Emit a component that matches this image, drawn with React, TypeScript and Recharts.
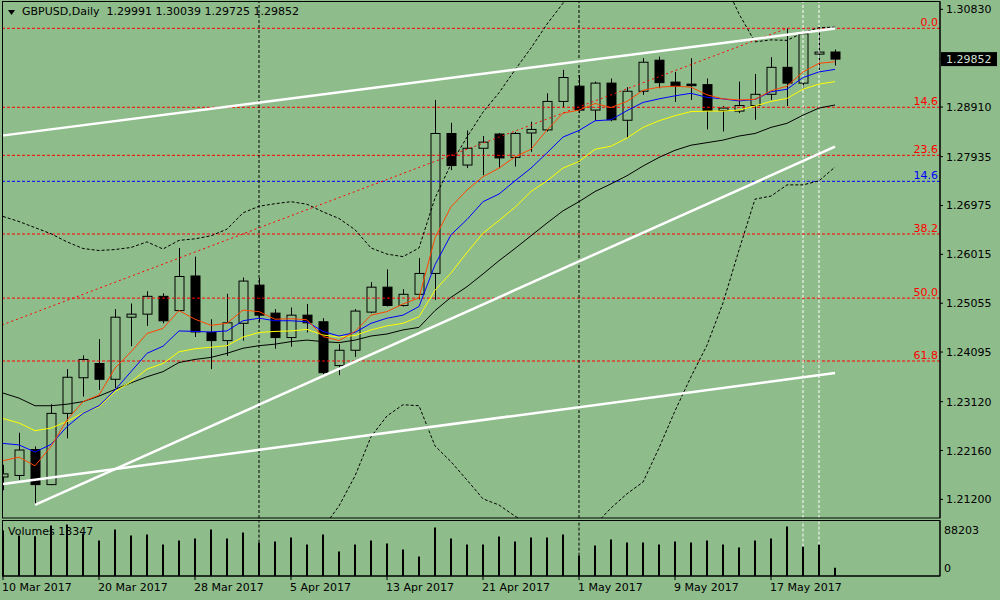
import { ComposedChart, Bar, Line, XAxis, YAxis, ReferenceLine } from "recharts";

const BG = "#8fbc8b";
const FONT = "DejaVu Sans, Tahoma, sans-serif";

// bar 0 = 10 Mar 2017 ... bar 52 = 23 May 2017 (daily bars, weekends skipped)
const tickBars = [0, 6, 12, 18, 24, 30, 36, 42, 48];
const tickDates = [
  "10 Mar 2017", "20 Mar 2017", "28 Mar 2017", "5 Apr 2017", "13 Apr 2017",
  "21 Apr 2017", "1 May 2017", "9 May 2017", "17 May 2017",
];

const opens = [
  1.2164, 1.2167, 1.2218, 1.2149, 1.2289, 1.2359, 1.2387, 1.2356, 1.2478, 1.2484,
  1.2519, 1.2491, 1.2559, 1.2448, 1.2432, 1.2466, 1.2541, 1.2486, 1.2438, 1.2482,
  1.2469, 1.2383, 1.2413, 1.2488, 1.2537, 1.2501, 1.2523, 1.2564, 1.2839, 1.2777,
  1.281, 1.2838, 1.2792, 1.284, 1.2846, 1.2902, 1.2932, 1.2885, 1.2938, 1.2865,
  1.2922, 1.2983, 1.294, 1.2936, 1.2935, 1.2884, 1.2883, 1.2894, 1.2916, 1.2969,
  1.2938, 1.2995, 1.29991,
];
const highs = [
  1.2188, 1.2251, 1.2224, 1.2307, 1.2376, 1.2403, 1.2435, 1.2494, 1.2505, 1.2529,
  1.2525, 1.2614, 1.2597, 1.2474, 1.2524, 1.2556, 1.2555, 1.2494, 1.2497, 1.2504,
  1.2476, 1.2425, 1.2494, 1.2547, 1.2572, 1.2533, 1.2594, 1.2905, 1.286, 1.2845,
  1.2834, 1.284, 1.2842, 1.2862, 1.2918, 1.2964, 1.2954, 1.2941, 1.2947, 1.293,
  1.2987, 1.299, 1.296, 1.2987, 1.2947, 1.2893, 1.2941, 1.2956, 1.2989, 1.3046,
  1.3037, 1.3046, 1.30039,
];
const lows = [
  1.2138, 1.2158, 1.2109, 1.2148, 1.224, 1.2322, 1.2335, 1.2339, 1.2421, 1.2461,
  1.2466, 1.249, 1.2439, 1.2376, 1.2402, 1.2432, 1.2469, 1.2416, 1.242, 1.2448,
  1.2366, 1.2364, 1.24, 1.2486, 1.2499, 1.2499, 1.2513, 1.2512, 1.2767, 1.2771,
  1.2757, 1.2771, 1.2774, 1.2803, 1.2843, 1.2889, 1.2879, 1.2864, 1.2863, 1.283,
  1.2915, 1.2928, 1.2901, 1.2905, 1.2847, 1.2843, 1.2879, 1.2866, 1.2905, 1.2893,
  1.2928, 1.2964, 1.29725,
];
const closes = [
  1.217, 1.2217, 1.2149, 1.2289, 1.236, 1.2395, 1.2356, 1.2478, 1.2484, 1.2519,
  1.2471, 1.2558, 1.2449, 1.2432, 1.2467, 1.2549, 1.2482, 1.2438, 1.2482, 1.2467,
  1.2369, 1.2413, 1.249, 1.2537, 1.2501, 1.2523, 1.2564, 1.2839, 1.2776, 1.281,
  1.2822, 1.2791, 1.2839, 1.2847, 1.2902, 1.2949, 1.2885, 1.2938, 1.2866, 1.2922,
  1.2979, 1.2939, 1.2932, 1.2933, 1.2884, 1.2889, 1.2894, 1.2916, 1.2969, 1.2938,
  1.3035, 1.2999, 1.29852,
];
const volumes = [
  72900, 64900, 63800, 81000, 82600, 68100, 56800, 74500, 64900, 66500,
  50400, 56800, 60100, 74500, 60100, 69700, 53600, 55200, 61700, 50400,
  66500, 39100, 50400, 56800, 52000, 42300, 31100, 77800, 60100, 50400,
  50400, 63300, 55200, 61700, 61700, 66500, 32700, 48800, 58400, 53600,
  53600, 50400, 55200, 53600, 56800, 50400, 45600, 56800, 60100, 79400,
  47200, 50400, 13347,
];

// moving averages and bands, read bar by bar
const maRed = [
  1.2196, 1.2203, 1.2186, 1.2224, 1.2276, 1.2312, 1.2325, 1.2378, 1.241, 1.2446,
  1.2456, 1.2491, 1.2474, 1.2462, 1.2466, 1.2492, 1.2489, 1.2474, 1.2475, 1.2473,
  1.244, 1.2432, 1.245, 1.2482, 1.2489, 1.2504, 1.2516, 1.2634, 1.2695, 1.2728,
  1.2754, 1.2771, 1.2793, 1.2808, 1.2846, 1.2879, 1.2885, 1.2898, 1.289, 1.2902,
  1.2924, 1.293, 1.2932, 1.293, 1.2915, 1.2907, 1.2905, 1.2906, 1.2923, 1.2932,
  1.296, 1.2977, 1.298,
];
const maBlue = [
  1.223, 1.2227, 1.2213, 1.2228, 1.2263, 1.2289, 1.2304, 1.2335, 1.2371, 1.2407,
  1.2421, 1.2451, 1.245, 1.2449, 1.2451, 1.2471, 1.2476, 1.2471, 1.2471, 1.2469,
  1.245, 1.2441, 1.2448, 1.2466, 1.2476, 1.2482, 1.2499, 1.2581, 1.264, 1.267,
  1.2705, 1.272, 1.2746, 1.2771, 1.2801, 1.2832, 1.2845, 1.2864, 1.2866, 1.2884,
  1.29, 1.2907, 1.2913, 1.2918, 1.291, 1.2907, 1.2903, 1.2906, 1.2921, 1.2926,
  1.2949, 1.296, 1.2965,
];
const maYellow = [
  1.2279, 1.227, 1.2255, 1.226, 1.2273, 1.229, 1.2302, 1.2332, 1.2351, 1.2376,
  1.2387, 1.241, 1.2416, 1.2419, 1.2422, 1.2439, 1.2448, 1.245, 1.2451, 1.2454,
  1.2443, 1.2439, 1.2442, 1.2453, 1.2461, 1.2466, 1.2479, 1.2531, 1.2565, 1.2605,
  1.2643, 1.2668, 1.2694, 1.2725, 1.2746, 1.2771, 1.2784, 1.2808, 1.2814, 1.283,
  1.2851, 1.2864, 1.2874, 1.2882, 1.2883, 1.2883, 1.2885, 1.2893, 1.2902, 1.2908,
  1.2926, 1.2936, 1.2941,
];
const maBlack = [
  1.2329, 1.2319, 1.2304, 1.2304, 1.2307, 1.2312, 1.2323, 1.2336, 1.2349, 1.2361,
  1.2371, 1.2389, 1.2395, 1.2399, 1.2407, 1.2417, 1.2422, 1.2425, 1.243, 1.2433,
  1.243, 1.2428, 1.2433, 1.2441, 1.2445, 1.2453, 1.2458, 1.2491, 1.2517, 1.2538,
  1.2563, 1.2589, 1.2613, 1.2638, 1.2663, 1.2687, 1.2705, 1.2725, 1.274, 1.2756,
  1.2775, 1.2792, 1.2806, 1.2816, 1.2821, 1.2826, 1.2834, 1.2839, 1.2851, 1.2859,
  1.2875, 1.2889, 1.2895,
];
const bandUpper = [
  1.2676, 1.2666, 1.2654, 1.2642, 1.2626, 1.2613, 1.2609, 1.2611, 1.2615, 1.2626,
  1.2612, 1.2629, 1.2632, 1.2638, 1.2651, 1.2683, 1.2696, 1.2701, 1.2705, 1.27,
  1.2685, 1.2672, 1.265, 1.2614, 1.2602, 1.2597, 1.2614, 1.2712, 1.2779, 1.2832,
  1.2881, 1.2919, 1.2964, 1.3007, 1.3054, 1.3095, 1.3361, 1.338, 1.338, 1.3382,
  1.3396, 1.3363, 1.3298, 1.3255, 1.3209, 1.3141, 1.3074, 1.3019, 1.3023, 1.3022,
  1.3037, 1.3047, 1.3048,
];
const bandLower = [
  1.1981, 1.1971, 1.1952, 1.1968, 1.1989, 1.2011, 1.203, 1.205, 1.206, 1.206,
  1.205, 1.206, 1.206, 1.204, 1.203, 1.2021, 1.2011, 1.2011, 1.2021, 1.204,
  1.2064, 1.2107, 1.2166, 1.2243, 1.2284, 1.2306, 1.2304, 1.2225, 1.2194, 1.2158,
  1.2121, 1.2109, 1.2087, 1.207, 1.206, 1.205, 1.205, 1.207, 1.2103, 1.2131,
  1.2154, 1.2221, 1.2294, 1.2361, 1.2423, 1.2506, 1.261, 1.271, 1.2716, 1.2738,
  1.2738, 1.2746, 1.2773,
];

const currentPrice = 1.29852;
const priceTicks = [
  1.3083, 1.29852, 1.2891, 1.27935, 1.26975, 1.26015, 1.25055, 1.24095, 1.2312, 1.2216, 1.212,
];
const fiboLevels = [1.30457, 1.28905, 1.27961, 1.26415, 1.25155, 1.23919];
const fiboLabels = ["0.0", "14.6", "23.6", "38.2", "50.0", "61.8"];
const fiboBlueLevel = 1.2745;
const fiboBlueLabel = "14.6";

// trendlines: [bar, price] anchors
const channelLines = [
  [[-0.0625, 1.28348], [52, 1.30453]],
  [[2, 1.2109], [52, 1.2813]],
  [[0, 1.21502], [52, 1.23683]],
];
const fiboTrend = [[-0.0625, 1.24627], [49, 1.30457]];
const monthSeparators = [16, 36];
const markedBars = [50, 51];

const X_DOMAIN = [-0.0625, 58.5625];
const Y_DOMAIN = [1.20834, 1.30974];
const VOL_MAX = 88203;

const rows = opens.map((o, i) => ({
  i,
  open: o,
  high: highs[i],
  low: lows[i],
  close: closes[i],
  vol: volumes[i],
  red: maRed[i],
  blue: maBlue[i],
  yellow: maYellow[i],
  black: maBlack[i],
  upper: bandUpper[i],
  lower: bandLower[i],
}));

const Candle = (props: any) => {
  const { x, y, width, height, payload } = props;
  const { open, high, low, close } = payload;
  const cx = Math.round(x + width / 2) + 0.5;
  const yTop = Math.min(y, y + height);
  const h = Math.abs(height);
  const unit = h / (high - low || 1e-9);
  const yOf = (v: number) => yTop + (high - v) * unit;
  const bTop = yOf(Math.max(open, close));
  const bBot = yOf(Math.min(open, close));
  const bull = close >= open;
  return (
    <g>
      <line x1={cx} x2={cx} y1={yTop} y2={yTop + h} stroke="#000" strokeWidth={1} />
      <rect
        x={cx - 4.5}
        y={bTop}
        width={9}
        height={Math.max(bBot - bTop, 1)}
        fill={bull ? BG : "#000"}
        stroke="#000"
        strokeWidth={1}
      />
    </g>
  );
};

const PriceTick = ({ x, y, payload }: any) => {
  const v = payload.value;
  const label = v.toFixed(5);
  if (v === currentPrice) {
    return (
      <g>
        <rect x={x - 4} y={y - 7} width={56} height={14} fill="#000" />
        <text x={x + 1} y={y + 4} fontSize={11} fontFamily={FONT} fill="#d0e0d0">
          {label}
        </text>
      </g>
    );
  }
  return (
    <text x={x + 1} y={y + 4} fontSize={11} fontFamily={FONT} fill="#000">
      {label}
    </text>
  );
};

const DateTick = ({ x, y, payload }: any) => (
  <text x={x - 1} y={y + 9} fontSize={11} fontFamily={FONT} fill="#000" textAnchor="start">
    {tickDates[tickBars.indexOf(payload.value)]}
  </text>
);

const VolTick = ({ x, y, payload }: any) => (
  <text
    x={x}
    y={payload.value === 0 ? y - 4 : y + 13}
    fontSize={11}
    fontFamily={FONT}
    fill="#000"
  >
    {payload.value}
  </text>
);

const fiboLabel = (text: string, color: string) => ({ viewBox }: any) => (
  <text
    x={viewBox.x + viewBox.width - 2}
    y={viewBox.y - 2}
    textAnchor="end"
    fontSize={11}
    fontFamily={FONT}
    fill={color}
  >
    {text}
  </text>
);

export default function App() {
  return (
    <div
      style={{
        position: "relative",
        width: 1000,
        height: 600,
        background: BG,
        overflow: "hidden",
        fontFamily: FONT,
      }}
    >
      <style>{"body{margin:0}"}</style>
      <div
        style={{
          position: "absolute",
          left: 22,
          top: 5,
          fontSize: 11,
          whiteSpace: "pre",
          color: "#000",
        }}
      >
        {"GBPUSD,Daily  1.29991 1.30039 1.29725 1.29852"}
      </div>
      <div style={{ position: "absolute", left: 8, top: 525, fontSize: 11, color: "#000" }}>
        Volumes 13347
      </div>

      <div style={{ position: "absolute", left: 0, top: 0 }}>
        <ComposedChart width={1000} height={520} data={rows} margin={{ top: 2, right: 0, bottom: 2, left: 2 }}>
          <XAxis dataKey="i" type="number" domain={X_DOMAIN} allowDataOverflow hide />
          <YAxis
            orientation="right"
            width={60}
            type="number"
            domain={Y_DOMAIN}
            allowDataOverflow
            ticks={priceTicks}
            interval={0}
            tickSize={3}
            tickMargin={2}
            tick={<PriceTick />}
            axisLine={{ stroke: "#000" }}
            tickLine={{ stroke: "#000" }}
          />
          {fiboLevels.map((lv, k) => (
            <ReferenceLine
              key={"f" + k}
              y={lv}
              stroke="#ff0000"
              strokeDasharray="3 2"
              label={fiboLabel(fiboLabels[k], "#ff0000")}
            />
          ))}
          <ReferenceLine
            y={fiboBlueLevel}
            stroke="#0000ff"
            strokeDasharray="3 2"
            label={fiboLabel(fiboBlueLabel, "#0000ff")}
          />
          {monthSeparators.map((b) => (
            <ReferenceLine key={"m" + b} x={b} stroke="#000" strokeDasharray="3 2" />
          ))}
          {markedBars.map((b) => (
            <ReferenceLine key={"w" + b} x={b} stroke="#ffffff" strokeDasharray="3 2" />
          ))}
          <Bar
            dataKey={(d: any) => [d.low, d.high]}
            barSize={9}
            shape={<Candle />}
            isAnimationActive={false}
          />
          <Line dataKey="upper" type="linear" stroke="#000" strokeWidth={1} strokeDasharray="3 2" dot={false} isAnimationActive={false} />
          <Line dataKey="lower" type="linear" stroke="#000" strokeWidth={1} strokeDasharray="3 2" dot={false} isAnimationActive={false} />
          <Line dataKey="black" type="linear" stroke="#000" strokeWidth={1} dot={false} isAnimationActive={false} />
          <Line dataKey="yellow" type="linear" stroke="#ffff00" strokeWidth={1} dot={false} isAnimationActive={false} />
          <Line dataKey="blue" type="linear" stroke="#0000ff" strokeWidth={1} dot={false} isAnimationActive={false} />
          <Line dataKey="red" type="linear" stroke="#ff4500" strokeWidth={1} dot={false} isAnimationActive={false} />
          <ReferenceLine
            segment={[
              { x: fiboTrend[0][0], y: fiboTrend[0][1] },
              { x: fiboTrend[1][0], y: fiboTrend[1][1] },
            ]}
            stroke="#ff0000"
            strokeDasharray="2 3"
            ifOverflow="visible"
          />
          {channelLines.map((seg, k) => (
            <ReferenceLine
              key={"c" + k}
              segment={[
                { x: seg[0][0], y: seg[0][1] },
                { x: seg[1][0], y: seg[1][1] },
              ]}
              stroke="#ffffff"
              strokeWidth={2.5}
              ifOverflow="visible"
            />
          ))}
        </ComposedChart>
      </div>

      <div style={{ position: "absolute", left: 0, top: 520 }}>
        <ComposedChart width={1000} height={80} data={rows} margin={{ top: 1, right: 0, bottom: 0, left: 2 }}>
          <XAxis
            dataKey="i"
            type="number"
            domain={X_DOMAIN}
            allowDataOverflow
            ticks={tickBars}
            interval={0}
            height={24}
            tickSize={4}
            tickMargin={2}
            tick={<DateTick />}
            axisLine={{ stroke: "#000" }}
            tickLine={{ stroke: "#000" }}
          />
          <YAxis
            orientation="right"
            width={60}
            type="number"
            domain={[0, VOL_MAX]}
            allowDataOverflow
            ticks={[0, VOL_MAX]}
            interval={0}
            tickSize={2}
            tickMargin={2}
            tickLine={false}
            tick={<VolTick />}
            axisLine={{ stroke: "#000" }}
          />
          {/* separators stop at the top of the volume bar of that day */}
          {monthSeparators.map((b) => (
            <ReferenceLine
              key={"vm" + b}
              segment={[{ x: b, y: volumes[b] }, { x: b, y: VOL_MAX }]}
              stroke="#000"
              strokeDasharray="3 2"
            />
          ))}
          {markedBars.map((b) => (
            <ReferenceLine
              key={"vw" + b}
              segment={[{ x: b, y: volumes[b] }, { x: b, y: VOL_MAX }]}
              stroke="#ffffff"
              strokeDasharray="3 2"
            />
          ))}
          <Bar dataKey="vol" barSize={2} fill="#000" isAnimationActive={false} />
        </ComposedChart>
      </div>

      <svg
        width={1000}
        height={600}
        style={{ position: "absolute", left: 0, top: 0, pointerEvents: "none" }}
      >
        <polygon points="8,10 15,10 11.5,15" fill="#000" />
        <rect x={2.5} y={1.5} width={937.5} height={516.5} fill="none" stroke="#000" />
        <rect x={2.5} y={520.5} width={937.5} height={55.5} fill="none" stroke="#000" />
      </svg>
    </div>
  );
}
